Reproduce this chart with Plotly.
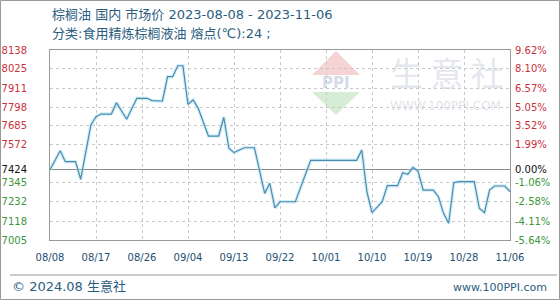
import plotly.graph_objects as go

# ---- data ----
dates = ["2023-08-08", "2023-08-10", "2023-08-11", "2023-08-13", "2023-08-14", "2023-08-16",
         "2023-08-17", "2023-08-18", "2023-08-20", "2023-08-21", "2023-08-23", "2023-08-25",
         "2023-08-27", "2023-08-28", "2023-08-30", "2023-08-31", "2023-09-01", "2023-09-02",
         "2023-09-03", "2023-09-04", "2023-09-05", "2023-09-06", "2023-09-08", "2023-09-10",
         "2023-09-11", "2023-09-12", "2023-09-13", "2023-09-15", "2023-09-17", "2023-09-19",
         "2023-09-20", "2023-09-21", "2023-09-22", "2023-09-25", "2023-09-28", "2023-10-07",
         "2023-10-08", "2023-10-09", "2023-10-10", "2023-10-12", "2023-10-13", "2023-10-15",
         "2023-10-16", "2023-10-17", "2023-10-18", "2023-10-19", "2023-10-20", "2023-10-22",
         "2023-10-23", "2023-10-24", "2023-10-25", "2023-10-26", "2023-10-27", "2023-10-30",
         "2023-10-31", "2023-11-01", "2023-11-02", "2023-11-03", "2023-11-05", "2023-11-06"]
prices = [7424, 7537, 7472, 7472, 7367, 7691,
          7740, 7756, 7756, 7824, 7725, 7850,
          7850, 7836, 7834, 7979, 7979, 8044,
          8044, 7814, 7840, 7790, 7625, 7625,
          7737, 7552, 7526, 7555, 7555, 7283,
          7343, 7197, 7233, 7233, 7480, 7480,
          7542, 7293, 7168, 7233, 7329, 7329,
          7406, 7397, 7438, 7416, 7303, 7303,
          7263, 7164, 7105, 7347, 7353, 7353,
          7194, 7168, 7303, 7327, 7327, 7293]

base_price = 7424
y_ticks = [8138, 8025, 7911, 7798, 7685, 7572, 7424, 7345, 7232, 7118, 7005]
pct_labels = ["9.62%", "8.10%", "6.57%", "5.05%", "3.52%", "1.99%", "0.00%",
              "-1.06%", "-2.58%", "-4.11%", "-5.64%"]
x_tick_dates = ["2023-08-08", "2023-08-17", "2023-08-26", "2023-09-04", "2023-09-13",
                "2023-09-22", "2023-10-01", "2023-10-10", "2023-10-19", "2023-10-28", "2023-11-06"]
x_tick_labels = ["08/08", "08/17", "08/26", "09/04", "09/13", "09/22",
                 "10/01", "10/10", "10/19", "10/28", "11/06"]

title = "棕榈油 国内 市场价 2023-08-08 - 2023-11-06"
subtitle = "分类:食用精炼棕榈液油 熔点(℃):24 ;"

RED = "#c8323c"
GREEN = "#3c963c"
BLACK = "#111111"


def col(v):
    if v > base_price:
        return RED
    if v < base_price:
        return GREEN
    return BLACK


y_text = ['<span style="color:%s">%d</span>' % (col(v), v) for v in y_ticks]
pct_vals = [(v / base_price - 1) * 100 for v in y_ticks]
pct_text = ['<span style="color:%s">%s</span>' % (col(v), s) for v, s in zip(y_ticks, pct_labels)]

ymin, ymax = min(y_ticks), max(y_ticks)
pmin, pmax = (ymin / base_price - 1) * 100, (ymax / base_price - 1) * 100
eps_y = 0.01
eps_p = eps_y / base_price * 100

fig = go.Figure()
fig.add_trace(go.Scatter(x=dates, y=prices, mode="lines",
                         line=dict(color="rgba(170,225,245,0.55)", width=3.5),
                         hoverinfo="skip", showlegend=False))
fig.add_trace(go.Scatter(x=dates, y=prices, mode="lines",
                         line=dict(color="#4f8aab", width=1.2),
                         showlegend=False))
# invisible trace for the right axis
fig.add_trace(go.Scatter(x=[dates[0]], y=[0], yaxis="y2", mode="markers",
                         marker=dict(opacity=0), showlegend=False, hoverinfo="skip"))

font_main = "DejaVu Sans, Noto Sans CJK SC, sans-serif"
font_cjk = "Noto Sans CJK SC, DejaVu Sans, sans-serif"
tick_font = dict(family="DejaVu Sans, sans-serif", size=10)

fig.update_layout(
    width=560, height=300,
    margin=dict(l=50, r=50, t=50, b=60, autoexpand=False),
    paper_bgcolor="white", plot_bgcolor="white",
    xaxis=dict(type="date", range=[x_tick_dates[0], x_tick_dates[-1]],
               tickvals=x_tick_dates, ticktext=x_tick_labels,
               tickfont=dict(family="DejaVu Sans, sans-serif", size=10, color="#1d4f72"),
               showgrid=True, gridcolor="#c8c8c8", griddash="dot", gridwidth=1,
               showline=True, linecolor="#999999", linewidth=1, mirror=True,
               ticks="", ticklabelstandoff=8, zeroline=False, automargin=False),
    yaxis=dict(range=[ymin - eps_y, ymax + eps_y], tickvals=y_ticks, ticktext=y_text,
               tickfont=tick_font,
               showgrid=True, gridcolor="#c8c8c8", griddash="dot", gridwidth=1,
               showline=True, linecolor="#999999", linewidth=1, mirror=True,
               ticks="", ticklabelstandoff=20, zeroline=False, automargin=False),
    yaxis2=dict(range=[pmin - eps_p, pmax + eps_p], overlaying="y", side="right",
                tickvals=pct_vals, ticktext=pct_text, tickfont=tick_font,
                showgrid=False, zeroline=True, zerolinecolor="#8c8c8c", zerolinewidth=1.2,
                ticks="", ticklabelstandoff=4, showline=False, automargin=False),
)

# watermark (decorative)
def px(x):
    return (x - 50) / 460.0


def py(y):
    return (240 - y) / 190.0


shapes = [
    # logo red triangle
    dict(type="path", xref="paper", yref="paper",
         path="M %f,%f L %f,%f L %f,%f Z" % (px(312), py(75), px(336), py(51), px(360), py(75)),
         fillcolor="rgba(240,170,170,0.5)", line=dict(width=0), layer="below"),
    # logo green triangle
    dict(type="path", xref="paper", yref="paper",
         path="M %f,%f L %f,%f L %f,%f Z" % (px(312), py(92), px(360), py(92), px(336), py(115)),
         fillcolor="rgba(170,220,170,0.5)", line=dict(width=0), layer="below"),
    # footer separator
    dict(type="line", xref="paper", yref="paper", x0=px(10), x1=px(557), y0=py(275), y1=py(275),
         line=dict(color="#999999", width=1)),
    # outer border
    dict(type="rect", xref="paper", yref="paper", x0=px(0.5), x1=px(559.5), y0=py(0.5), y1=py(299.5),
         line=dict(color="#999999", width=1)),
]
fig.update_layout(shapes=shapes)

ann = [
    dict(text=title, x=px(50), y=py(14), xanchor="left", yanchor="middle",
         font=dict(family=font_main, size=13, color="#2b5d80")),
    dict(text=subtitle, x=px(50), y=py(34), xanchor="left", yanchor="middle",
         font=dict(family=font_main, size=13, color="#2b5d80")),
    dict(text="© 2024.08 生意社", x=px(10), y=py(286), xanchor="left", yanchor="middle",
         font=dict(family=font_main, size=13, color="#2b5d80")),
    dict(text="www.100PPI.com", x=px(549), y=py(287), xanchor="right", yanchor="middle",
         font=dict(family="DejaVu Sans, sans-serif", size=11, color="#2b5d80")),
    dict(text="生 意 社", x=px(447), y=py(72), xanchor="center", yanchor="middle",
         font=dict(family=font_cjk, size=33, color="rgba(205,210,222,0.55)")),
    dict(text="WWW.100PPI.COM", x=px(445), y=py(106), xanchor="center", yanchor="middle",
         font=dict(family="DejaVu Sans, sans-serif", size=12, color="rgba(205,210,222,0.65)")),
    dict(text="<b>PPI</b>", x=px(336), y=py(83), xanchor="center", yanchor="middle",
         font=dict(family="DejaVu Sans, sans-serif", size=15, color="rgba(170,185,215,0.5)")),
]
for a in ann:
    a.setdefault("xref", "paper")
    a.setdefault("yref", "paper")
    a["showarrow"] = False
fig.update_layout(annotations=ann)

fig.write_html("out.html")
